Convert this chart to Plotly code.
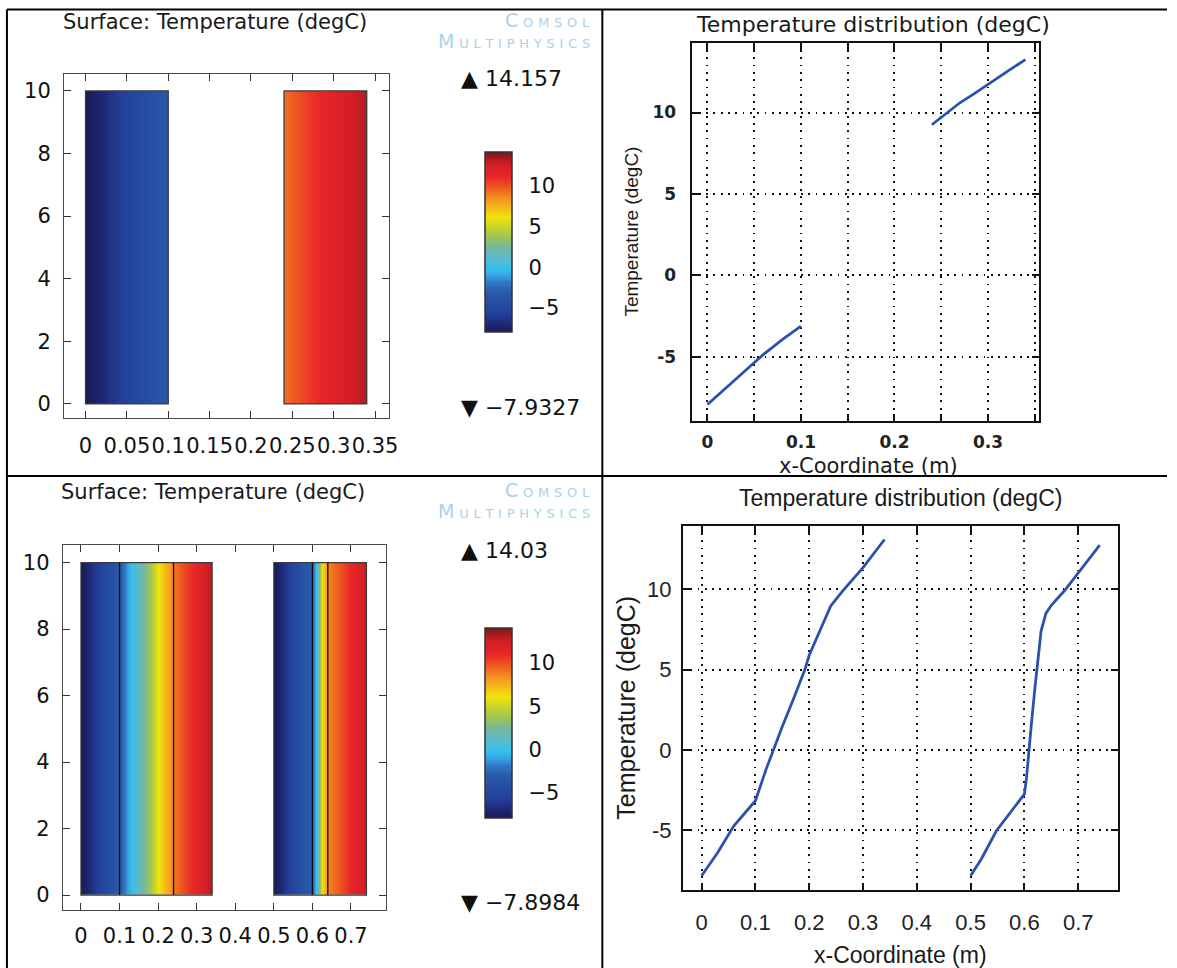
import plotly.graph_objects as go

W, H = 1177, 968

# ---------------- data ----------------
# Case 1 (top row): temperature profile along x (m), degC
x_case1_a = [0.0, 0.02, 0.04, 0.06, 0.08, 0.10]
T_case1_a = [-7.93, -6.90, -5.85, -4.85, -3.95, -3.12]
x_case1_b = [0.24, 0.255, 0.27, 0.285, 0.30, 0.32, 0.34]
T_case1_b = [9.25, 9.95, 10.6, 11.15, 11.75, 12.5, 13.25]

# Case 2 (bottom row)
x_case2_a = [0.0, 0.03, 0.06, 0.10, 0.12, 0.133, 0.15, 0.17, 0.192, 0.20, 0.22, 0.24, 0.262, 0.30, 0.34]
T_case2_a = [-7.84, -6.39, -4.73, -3.17, -1.2, 0.0, 1.45, 3.1, 5.0, 5.9, 7.4, 8.96, 9.89, 11.35, 13.1]
x_case2_b = [0.50, 0.52, 0.548, 0.576, 0.60, 0.604, 0.608, 0.613, 0.619, 0.625, 0.631, 0.64, 0.65, 0.674, 0.70, 0.74]
T_case2_b = [-7.84, -6.8, -5.04, -3.8, -2.76, -1.72, -0.06, 1.6, 3.67, 5.74, 7.4, 8.5, 9.0, 9.89, 11.03, 12.75]

wall_height = [0, 10]
case1_blocks = [(0.0, 0.10), (0.24, 0.34)]
case2_blocks = [(0.0, 0.34), (0.50, 0.74)]
case2_interfaces = [0.10, 0.24, 0.60, 0.64]

case1_minmax = [-7.9327, 14.157]
case2_minmax = [-7.8984, 14.03]
case1_max_label = "▲ 14.157"
case1_min_label = "▼ −7.9327"
case2_max_label = "▲ 14.03"
case2_min_label = "▼ −7.8984"

colorbar_ticks = [-5, 0, 5, 10]
line_yticks = [-5, 0, 5, 10]
line_yticklabels = ["-5", "0", "5", "10"]

surface_title = "Surface: Temperature (degC)"
line_title = "Temperature distribution (degC)"
x_title = "x-Coordinate (m)"
y_title = "Temperature (degC)"

# ---------------- style ----------------
RAINBOW = [
    [0.000, '#171a55'],
    [0.050, '#1f2a78'],
    [0.100, '#23409a'],
    [0.140, '#2448a0'],
    [0.220, '#2a5aa8'],
    [0.275, '#2f78c8'],
    [0.310, '#38a0e0'],
    [0.347, '#30c0f0'],
    [0.415, '#5fb8c8'],
    [0.474, '#78b898'],
    [0.543, '#a8c848'],
    [0.634, '#f2e40c'],
    [0.725, '#f5a020'],
    [0.794, '#f06020'],
    [0.862, '#e8262a'],
    [0.930, '#d21e24'],
    [1.000, '#7a1818'],
]


def px(x):
    return x / W


def py(y):
    return 1 - y / H


fig = go.Figure()


def surface(xs, T, axx, axy, zr, cb=None):
    tr = go.Contour(
        x=xs, y=wall_height, z=[T, T],
        xaxis=axx, yaxis=axy,
        colorscale=RAINBOW, zmin=zr[0], zmax=zr[1],
        contours=dict(coloring='heatmap', showlines=False),
        line=dict(width=0), connectgaps=False,
        showscale=cb is not None, hoverinfo='skip',
    )
    if cb is not None:
        tr.colorbar = cb
    fig.add_trace(tr)


def cbar(top, bottom):
    return dict(
        x=px(489), xanchor='left', y=py((top + bottom) / 2), yanchor='middle',
        len=bottom - top, lenmode='pixels', thickness=27, thicknessmode='pixels',
        xpad=0, ypad=0, outlinecolor='#333', outlinewidth=1.5,
        ticks='outside', ticklen=12, tickwidth=1, tickcolor='rgba(0,0,0,0)',
        tickvals=colorbar_ticks,
        tickfont=dict(family='DejaVu Sans', size=21, color='#111'),
    )


surface(x_case1_a, T_case1_a, 'x', 'y', case1_minmax, cbar(152, 332))
surface(x_case1_b, T_case1_b, 'x', 'y', case1_minmax)
surface(x_case2_a, T_case2_a, 'x3', 'y3', case2_minmax, cbar(628, 818))
surface(x_case2_b, T_case2_b, 'x3', 'y3', case2_minmax)

line_style = dict(color='#2a52ad', width=2.8)
for xs, T, ax, ay in [(x_case1_a, T_case1_a, 'x2', 'y2'), (x_case1_b, T_case1_b, 'x2', 'y2'),
                      (x_case2_a, T_case2_a, 'x4', 'y4'), (x_case2_b, T_case2_b, 'x4', 'y4')]:
    fig.add_trace(go.Scatter(x=xs, y=T, xaxis=ax, yaxis=ay, mode='lines',
                             line=line_style, showlegend=False, hoverinfo='skip'))

left_axis = dict(showline=True, linecolor='#4a4a4a', linewidth=1.2, mirror='ticks',
                 ticks='inside', ticklen=7, tickwidth=1.3, tickcolor='#333',
                 showgrid=False, zeroline=False, tickangle=0,
                 tickfont=dict(family='DejaVu Sans', size=21, color='#111'))
right_axis = dict(showline=True, linecolor='#111', linewidth=2, mirror='ticks',
                  ticks='inside', ticklen=7, tickwidth=1.5, tickcolor='#111',
                  showgrid=True, gridcolor='#111', gridwidth=1.7, griddash='1.8px,5.5px',
                  zeroline=False, tickangle=0)

tr_font = dict(family='DejaVu Sans', size=17, color='#222', weight='bold')
br_font = dict(family='Liberation Sans', size=22, color='#222')

fig.update_layout(
    width=W, height=H, autosize=False,
    margin=dict(l=0, r=0, t=0, b=0),
    paper_bgcolor='white', plot_bgcolor='white', showlegend=False,
    xaxis=dict(left_axis, domain=[px(64.6), px(392)], range=[-0.026, 0.3665],
               dtick=0.05, tick0=0, anchor='y', ticklabelstandoff=9),
    yaxis=dict(left_axis, domain=[py(418), py(74)], range=[-0.45, 10.54],
               dtick=2, tick0=0, anchor='x', ticklabelstandoff=8),
    xaxis2=dict(right_axis, domain=[px(697.5), px(1048.3)], range=[-0.017, 0.355],
                dtick=0.05, tick0=0, ticklabelstep=2, anchor='y2', tickfont=tr_font,
                ticklabelstandoff=5),
    yaxis2=dict(right_axis, domain=[py(420.7), py(42.7)], range=[-8.93, 14.29],
                tickvals=line_yticks, ticktext=line_yticklabels, anchor='x2',
                tickfont=tr_font, ticklabelstandoff=10),
    xaxis3=dict(left_axis, domain=[px(63.4), px(389)], range=[-0.047, 0.79],
                dtick=0.1, tick0=0, anchor='y3', ticklabelstandoff=7),
    yaxis3=dict(left_axis, domain=[py(910), py(545)], range=[-0.45, 10.53],
                dtick=2, tick0=0, anchor='x3', ticklabelstandoff=8),
    xaxis4=dict(right_axis, domain=[px(688.8), px(1127.2)], range=[-0.0347, 0.7733],
                dtick=0.1, tick0=0, anchor='y4', tickfont=br_font, ticklabelstandoff=12),
    yaxis4=dict(right_axis, domain=[py(890), py(525.7)], range=[-8.73, 13.96],
                tickvals=line_yticks, ticktext=line_yticklabels, anchor='x4',
                tickfont=br_font, ticklabelstandoff=5),
)

# ---------- block outlines ----------
shapes = []
for (a, b) in case1_blocks:
    shapes.append(dict(type='rect', xref='x', yref='y', x0=a, x1=b, y0=wall_height[0], y1=wall_height[1],
                       line=dict(color='#3a3a3a', width=1.3), fillcolor='rgba(0,0,0,0)', layer='above'))
for (a, b) in case2_blocks:
    shapes.append(dict(type='rect', xref='x3', yref='y3', x0=a, x1=b, y0=wall_height[0], y1=wall_height[1],
                       line=dict(color='#3a3a3a', width=1.3), fillcolor='rgba(0,0,0,0)', layer='above'))
for xi in case2_interfaces:
    shapes.append(dict(type='line', xref='x3', yref='y3', x0=xi, x1=xi, y0=wall_height[0], y1=wall_height[1],
                       line=dict(color='#111', width=1.3), layer='above'))

# ---------- table borders ----------
border = dict(color='black', width=2)
for (x0, y0, x1, y1) in [(7, 9.5, 7, 968), (7, 9.5, 1177, 9.5), (607.5, 9.5, 607.5, 968), (7, 476, 1177, 476)]:
    shapes.append(dict(type='line', xref='paper', yref='paper', x0=px(x0), x1=px(x1),
                       y0=py(y0), y1=py(y1), line=border, layer='above'))
fig.update_layout(shapes=shapes)

# ---------- annotations ----------
ann = []


def text(t, x, y, font, xanchor='center', angle=0):
    ann.append(dict(text=t, x=px(x), y=py(y), xref='paper', yref='paper', showarrow=False,
                    xanchor=xanchor, yanchor='middle', font=font, textangle=angle))


dv = dict(family='DejaVu Sans', color='#1a1a1a')
text(surface_title, 217, 22, dict(dv, size=21))
text(surface_title, 215, 492, dict(dv, size=21))
text(line_title, 880, 25, dict(dv, size=22))
text(x_title, 876, 466, dict(dv, size=21))
text(y_title, 637, 232, dict(family='Liberation Sans', size=19, color='#1a1a1a'), angle=-90)
text(line_title, 908, 498, dict(family='Liberation Sans', size=23, color='#1a1a1a'))
text(x_title, 908, 955, dict(family='Liberation Sans', size=23, color='#1a1a1a'))
text(y_title, 631, 708, dict(family='Liberation Sans', size=25, color='#1a1a1a'), angle=-90)

mm = dict(family='DejaVu Sans', size=22, color='#111')
text(case1_max_label, 463, 78, mm, 'left')
text(case1_min_label, 463, 408, mm, 'left')
text(case2_max_label, 463, 550, mm, 'left')
text(case2_min_label, 463, 902, mm, 'left')

sp = '\u2005'
logo = dict(family='DejaVu Sans', size=19, color='#a9d2ea', variant='small-caps')
for (y1, y2) in [(20, 41), (490, 511)]:
    text(sp.join('Comsol'), 597, y1, logo, 'right')
    text(sp.join('Multiphysics'), 597, y2, logo, 'right')

fig.update_layout(annotations=ann)

fig.write_html("out.html", config={'displayModeBar': False},
               post_script="document.body.style.margin='0';")
